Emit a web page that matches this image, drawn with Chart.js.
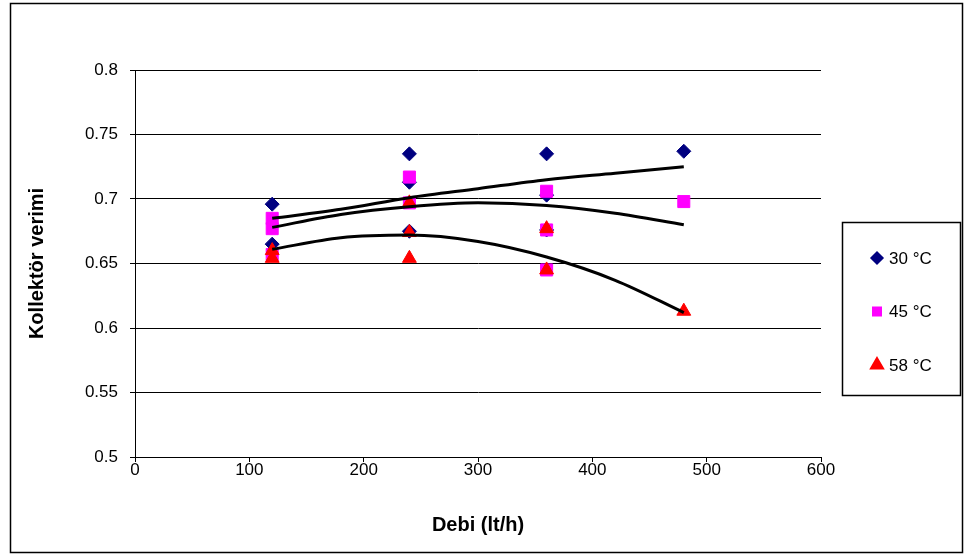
<!DOCTYPE html>
<html>
<head>
<meta charset="utf-8">
<script src="https://cdn.jsdelivr.net/npm/chart.js@4.4.1/dist/chart.umd.min.js"></script>
<style>
  html, body { margin: 0; padding: 0; background: #fff; }
  #wrap { position: relative; width: 973px; height: 560px; }
</style>
</head>
<body>
<div id="wrap"><canvas id="chart" width="973" height="560"></canvas></div>
<script>
// measured points (Debi lt/h, Kollektör verimi)
const seriesNames = ['30 °C', '45 °C', '58 °C'];

const x30 = [120, 120, 240, 240, 240, 360, 360, 360, 480];
const y30 = [0.696, 0.665, 0.735, 0.713, 0.675, 0.735, 0.703, 0.676, 0.737];

const x45 = [120, 120, 120, 240, 240, 360, 360, 360, 480];
const y45 = [0.685, 0.677, 0.657, 0.717, 0.697, 0.706, 0.676, 0.645, 0.698];

const x58 = [120, 120, 240, 240, 240, 360, 360, 480];
const y58 = [0.660, 0.654, 0.697, 0.674, 0.654, 0.677, 0.645, 0.613];

// trendlines
const trendX = [120, 180, 240, 300, 360, 420, 480];
const trend30 = [0.685, 0.692, 0.701, 0.708, 0.715, 0.720, 0.725];
const trend45 = [0.678, 0.688, 0.694, 0.697, 0.695, 0.689, 0.680];
const trend58 = [0.661, 0.670, 0.672, 0.667, 0.655, 0.637, 0.612];

const colors = ['#000080', '#FF00FF', '#FF0000'];
const styles = ['rectRot', 'rect', 'triangle'];
const radii  = [7, 8.5, 8];

const FONT = '"Liberation Sans", Arial, sans-serif';

function pts(xs, ys) { return xs.map((x, i) => ({ x, y: ys[i] })); }

function trend(ys) {
  return {
    data: pts(trendX, ys),
    showLine: true,
    borderColor: '#000',
    borderWidth: 3,
    pointRadius: 0,
    cubicInterpolationMode: 'monotone',
    fill: false,
  };
}

function marks(i, xs, ys) {
  return {
    label: seriesNames[i],
    data: pts(xs, ys),
    pointStyle: styles[i],
    pointRadius: radii[i],
    pointHoverRadius: radii[i],
    backgroundColor: colors[i],
    borderColor: colors[i],
    borderWidth: 1,
    showLine: false,
  };
}

// page frame + legend box
const frame = {
  id: 'frame',
  beforeDraw(chart) {
    const ctx = chart.ctx;
    ctx.save();
    ctx.fillStyle = '#fff';
    ctx.fillRect(0, 0, chart.width, chart.height);
    ctx.strokeStyle = '#000';
    ctx.lineWidth = 1.5;
    ctx.strokeRect(10.5, 3.5, 952, 549);
    ctx.restore();
  },
  afterDraw(chart) {
    const ctx = chart.ctx;
    ctx.save();
    ctx.strokeStyle = '#000';
    ctx.lineWidth = 1.5;
    ctx.strokeRect(842.5, 222.5, 118, 173);
    ctx.font = '17px ' + FONT;
    ctx.textBaseline = 'middle';
    const legendR = [6, 6, 7.5];
    seriesNames.forEach((name, i) => {
      const y = 258 + i * 53.5;
      ctx.fillStyle = colors[i];
      ctx.strokeStyle = colors[i];
      Chart.helpers.drawPoint(ctx, { pointStyle: styles[i], radius: legendR[i], rotation: 0, borderWidth: 1 }, 877, y);
      ctx.fillStyle = '#000';
      ctx.fillText(name, 889, y + 1);
    });
    ctx.restore();
  }
};

new Chart(document.getElementById('chart'), {
  type: 'scatter',
  data: {
    datasets: [
      trend(trend30), trend(trend45), trend(trend58),
      marks(2, x58, y58), marks(1, x45, y45), marks(0, x30, y30),
    ],
  },
  options: {
    responsive: false,
    animation: false,
    events: [],
    layout: { padding: { left: 0, top: 70, right: 152, bottom: 0 } },
    plugins: { legend: { display: false }, tooltip: { enabled: false } },
    scales: {
      x: {
        type: 'linear', min: 0, max: 600,
        ticks: { stepSize: 100, color: '#000', font: { family: FONT, size: 17 }, padding: -2 },
        grid: { drawOnChartArea: false, drawTicks: true, tickLength: 5, tickColor: '#000' },
        border: { color: '#000', width: 1 },
        title: { display: true, text: 'Debi (lt/h)', color: '#000',
                 font: { family: FONT, size: 20, weight: 'bold' }, padding: { bottom: 23 } },
        afterFit(axis) { axis.height = 103; },
      },
      y: {
        type: 'linear', min: 0.5, max: 0.8,
        ticks: { stepSize: 0.05, color: '#000', font: { family: FONT, size: 17 }, padding: 12,
                 callback: v => String(Number(v.toFixed(2))) },
        grid: { color: '#000', lineWidth: 1, tickLength: 5, tickColor: '#000' },
        border: { color: '#000', width: 1 },
        title: { display: true, text: 'Kollektör verimi', color: '#000',
                 font: { family: FONT, size: 20, weight: 'bold' }, padding: { top: 25 } },
        afterFit(axis) { axis.width = 135; },
      },
    },
  },
  plugins: [frame],
});
</script>
</body>
</html>
